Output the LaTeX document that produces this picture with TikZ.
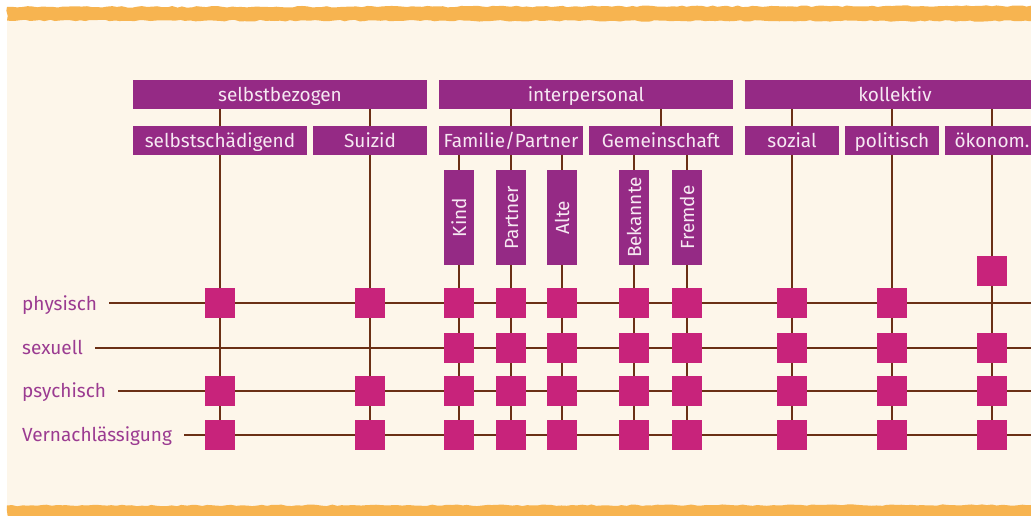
\documentclass[tikz,border=0pt]{standalone}
\usepackage{fontspec}
\setmainfont{Fira Sans}
\usetikzlibrary{decorations.pathmorphing}
\definecolor{paper}{HTML}{FDF6EA}
\definecolor{band}{HTML}{F7B450}
\definecolor{hdr}{HTML}{952A85}
\definecolor{hdrtext}{HTML}{F6E8F2}
\definecolor{cell}{HTML}{C8237B}
\definecolor{wire}{HTML}{6B3015}
\definecolor{lbl}{HTML}{9B3B91}
\tikzset{
  hbox/.style={fill=hdr, text=hdrtext, inner sep=0pt, minimum height=29pt,
    text height=16pt, text depth=2pt, font=\fontsize{19}{22}\selectfont},
  vbox/.style={hbox, rotate=90, minimum width=95pt, minimum height=30pt},
  cellbox/.style={fill=cell, inner sep=0pt, minimum size=30pt},
  rowlabel/.style={text=lbl, inner sep=0pt, anchor=base west,
    font=\fontsize{19}{22}\selectfont},
  wireline/.style={draw=wire, line width=2.5pt},
  ragged/.style={decorate, decoration={random steps, segment length=5pt, amplitude=0.8pt}}
}
\begin{document}
\begin{tikzpicture}[x=1pt, y=-1pt]
\useasboundingbox (0,0) rectangle (1031,515);
\clip (0,0) rectangle (1031,515);
\pgfmathsetseed{7}
% paper and torn orange bands
\fill[white] (0,0) rectangle (1031,515);
\fill[paper] (7,18) rectangle (1031,507);
\fill[band, ragged] (7,7) -- (1035,6) -- (1035,21) -- (7,20.5) -- cycle;
\fill[band, ragged] (7,505.5) -- (1035,505) -- (1035,520) -- (7,520) -- cycle;

% row coordinates
\coordinate (r0) at (0,271);
\coordinate (r1) at (0,303);
\coordinate (r2) at (0,348);
\coordinate (r3) at (0,391);
\coordinate (r4) at (0,435);
\coordinate (rend) at (1040,0);

% top categories
\node[hbox, minimum width=294pt] (selbst) at (280,94.5) {selbstbezogen};
\node[hbox, minimum width=294pt] (inter) at (586,94.5) {interpersonal};
\node[hbox, minimum width=300pt] (koll) at (895,94.5) {kollektiv};

% sub categories
\node[hbox, minimum width=174pt] (ssch) at (220,140.5) {selbstschädigend};
\node[hbox, minimum width=114pt] (suiz) at (370,140.5) {Suizid};
\node[hbox, minimum width=144pt] (fam) at (511,140.5) {Familie/Partner};
\node[hbox, minimum width=144pt] (gem) at (661,140.5) {Gemeinschaft};
\node[hbox, minimum width=94pt] (soz) at (792,140.5) {sozial};
\node[hbox, minimum width=94pt] (pol) at (892,140.5) {politisch};
\node[hbox, minimum width=94pt] (oek) at (992,140.5) {ökonom.};

% victim groups
\node[vbox] (kind) at (459,217.5) {Kind};
\node[vbox] (partner) at (511,217.5) {Partner};
\node[vbox] (alte) at (562,217.5) {Alte};
\node[vbox] (bek) at (634,217.5) {Bekannte};
\node[vbox] (fremd) at (687,217.5) {Fremde};

% row labels
\node[rowlabel] (phys) at (22,310) {physisch};
\node[rowlabel] (sex) at (22,354.5) {sexuell};
\node[rowlabel] (psy) at (22,397.5) {psychisch};
\node[rowlabel] (vern) at (22,441.5) {Vernachlässigung};

% horizontal lines
\foreach \lab/\row in {phys/r1, sex/r2, psy/r3, vern/r4} {
  \path (\lab.east) ++(12pt,0) coordinate (\lab-start);
  \draw[wireline] (\lab-start |- \row) -- (rend |- \row);
}

% links between category levels
\foreach \sub/\top in {ssch/selbst, suiz/selbst, fam/inter, gem/inter, soz/koll, pol/koll, oek/koll}
  \draw[wireline] (\sub.north) -- (\sub.north |- \top.south);

% links to victim groups
\foreach \v/\sub in {kind/fam, partner/fam, alte/fam, bek/gem, fremd/gem} {
  \draw[wireline] (\v.east) -- (\v.east |- \sub.south);
  \draw[wireline] (\v.west) -- (\v.west |- r4);
}

% columns running down to the last row
\foreach \sub in {ssch, suiz, soz, pol, oek}
  \draw[wireline] (\sub.south) -- (\sub.south |- r4);

% intersection cells
\foreach \col in {ssch, suiz}
  \foreach \row in {r1, r3, r4}
    \node[cellbox] (c-\col-\row) at (\col.south |- \row) {};
\foreach \col in {kind, partner, alte, bek, fremd}
  \foreach \row in {r1, r2, r3, r4}
    \node[cellbox] (c-\col-\row) at (\col.west |- \row) {};
\foreach \col in {soz, pol}
  \foreach \row in {r1, r2, r3, r4}
    \node[cellbox] (c-\col-\row) at (\col.south |- \row) {};
\foreach \row in {r0, r2, r3, r4}
  \node[cellbox] (c-oek-\row) at (oek.south |- \row) {};
\end{tikzpicture}
\end{document}
